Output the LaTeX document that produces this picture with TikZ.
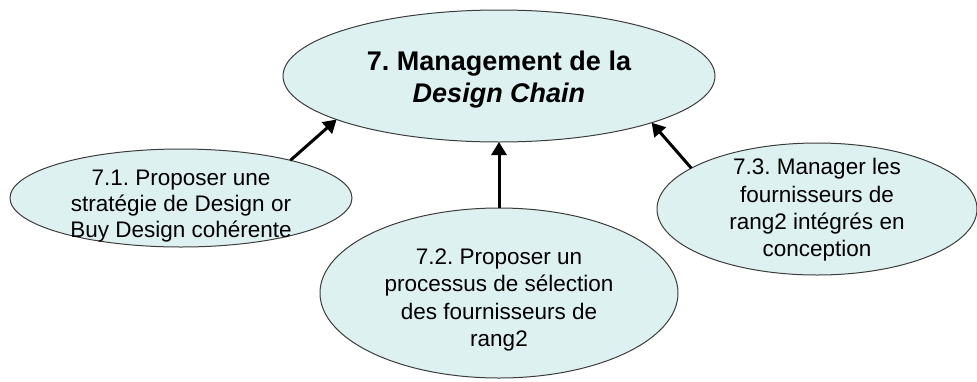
\documentclass[tikz,border=0pt]{standalone}
\usepackage{fontspec}
\setmainfont{Liberation Sans}
\frenchspacing
\usetikzlibrary{shapes.geometric,arrows.meta}
\definecolor{bubble}{RGB}{222,241,241}
\definecolor{rim}{RGB}{60,60,60}
\begin{document}
\begin{tikzpicture}[x=1pt,y=-1pt,
  bubblebox/.style={ellipse,draw=rim,fill=bubble,line width=1pt,inner sep=0pt,outer sep=0pt},
  subtext/.style={align=center,font=\fontsize{22.5}{27.3}\selectfont,inner sep=0pt,anchor=base},
  titletext/.style={align=center,font=\fontsize{27}{32}\selectfont\bfseries,inner sep=0pt,anchor=base},
  link/.style={line width=3pt,-{Triangle[width=15pt,length=13pt]}}]
\useasboundingbox (0,0) rectangle (977,381);
\node[bubblebox,minimum width=432pt,minimum height=132pt] (main) at (499,76) {};
\node[bubblebox,minimum width=342pt,minimum height=98pt] (e1) at (181,198) {};
\node[bubblebox,minimum width=358pt,minimum height=170pt] (e2) at (499,293) {};
\node[bubblebox,minimum width=320pt,minimum height=132pt] (e3) at (817,209) {};
\node[titletext] (t0) at (499,102.7) {7. Management de la\\\textit{Design Chain}};
\node[subtext,font=\fontsize{22.5}{26}\selectfont] (t1) at (181,237) {7.1. Proposer une\\strat\'egie de Design or\\Buy Design coh\'erente};
\node[subtext] (t2) at (499,346.5) {7.2. Proposer un\\processus de s\'election\\des fournisseurs de\\rang2};
\node[subtext] (t3) at (817,256.7) {7.3. Manager les\\fournisseurs de\\rang2 int\'egr\'es en\\conception};
\draw[link] (e1.19) -- (main.195);
\draw[link] (e2.north) -- (main.south);
\draw[link] (e3.162) -- (main.343);
\end{tikzpicture}
\end{document}
